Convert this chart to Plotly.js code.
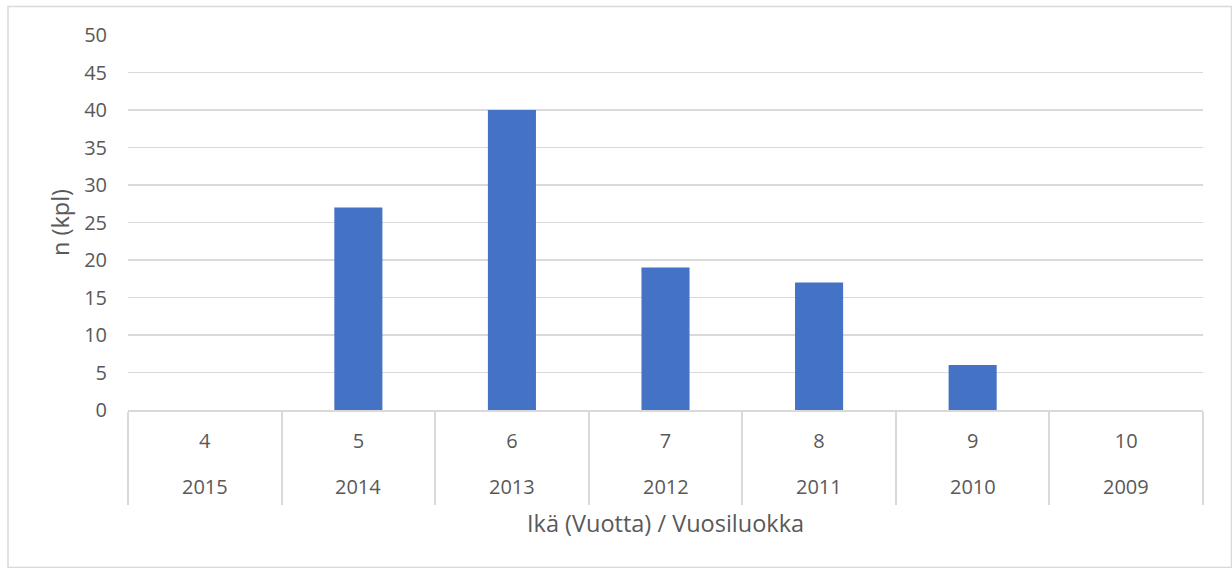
<!DOCTYPE html>
<html>
<head>
<meta charset="utf-8">
<script src="https://cdn.plot.ly/plotly-3.0.1.min.js"></script>
<style>
html,body{margin:0;padding:0;background:#fff;}
#chart{width:1232px;height:568px;}
</style>
</head>
<body>
<div id="chart"></div>
<script>
const ages = ["4", "5", "6", "7", "8", "9", "10"];
const years = ["2015", "2014", "2013", "2012", "2011", "2010", "2009"];
const counts = [0, 27, 40, 19, 17, 6, 0];
const yTicks = [0, 5, 10, 15, 20, 25, 30, 35, 40, 45, 50];

const FONT = "'Open Sans', 'Noto Sans', sans-serif";
const TXT = "#595959";
const GRID = "#d9d9d9";
const FS = 20;
const TFS = 23.5;

const trace = {
  type: "bar",
  x: ages,
  y: counts,
  marker: {color: "#4472c4"},
  hoverinfo: "x+y"
};

const annotations = years.map((yr, i) => ({
  x: i, xref: "x",
  y: -0.205, yref: "paper",
  yanchor: "middle", xanchor: "center",
  text: yr, showarrow: false,
  font: {family: FONT, size: FS, color: TXT}
}));
annotations.push({
  x: 0.5, xref: "paper",
  y: -0.301, yref: "paper",
  yanchor: "middle", xanchor: "center",
  text: "Ikä (Vuotta) / Vuosiluokka", showarrow: false,
  font: {family: FONT, size: TFS, color: TXT}
});

const layout = {
  width: 1232, height: 568,
  margin: {l: 128, r: 29, t: 35, b: 158},
  paper_bgcolor: "#fff", plot_bgcolor: "#fff",
  bargap: 0.687,
  showlegend: false,
  font: {family: FONT, size: FS, color: TXT},
  xaxis: {
    type: "category",
    range: [-0.5, 6.5],
    tickson: "boundaries",
    ticks: "outside",
    ticklen: 93,
    tickwidth: 2,
    tickcolor: GRID,
    showline: true, linecolor: GRID, linewidth: 2,
    showgrid: false,
    ticklabelstandoff: 12,
    tickfont: {family: FONT, size: FS, color: TXT},
    automargin: false
  },
  yaxis: {
    range: [0, 50],
    tickvals: yTicks,
    showgrid: true, gridcolor: GRID, gridwidth: 1.5,
    zeroline: false,
    showline: false,
    ticks: "",
    ticklabelstandoff: 20,
    tickfont: {family: FONT, size: FS, color: TXT},
    title: {text: "n (kpl)", standoff: 7, font: {family: FONT, size: TFS, color: TXT}},
    automargin: false
  },
  annotations: annotations,
  shapes: [{
    type: "rect", xref: "paper", yref: "paper",
    x0: (8 - 128) / 1075, x1: (1231.5 - 128) / 1075,
    y0: (410 - 567.5) / 375, y1: (410 - 6.5) / 375,
    line: {color: GRID, width: 1.5}, fillcolor: "rgba(0,0,0,0)", layer: "below"
  }]
};

Plotly.newPlot("chart", [trace], layout, {displayModeBar: false, staticPlot: true});
</script>
</body>
</html>
